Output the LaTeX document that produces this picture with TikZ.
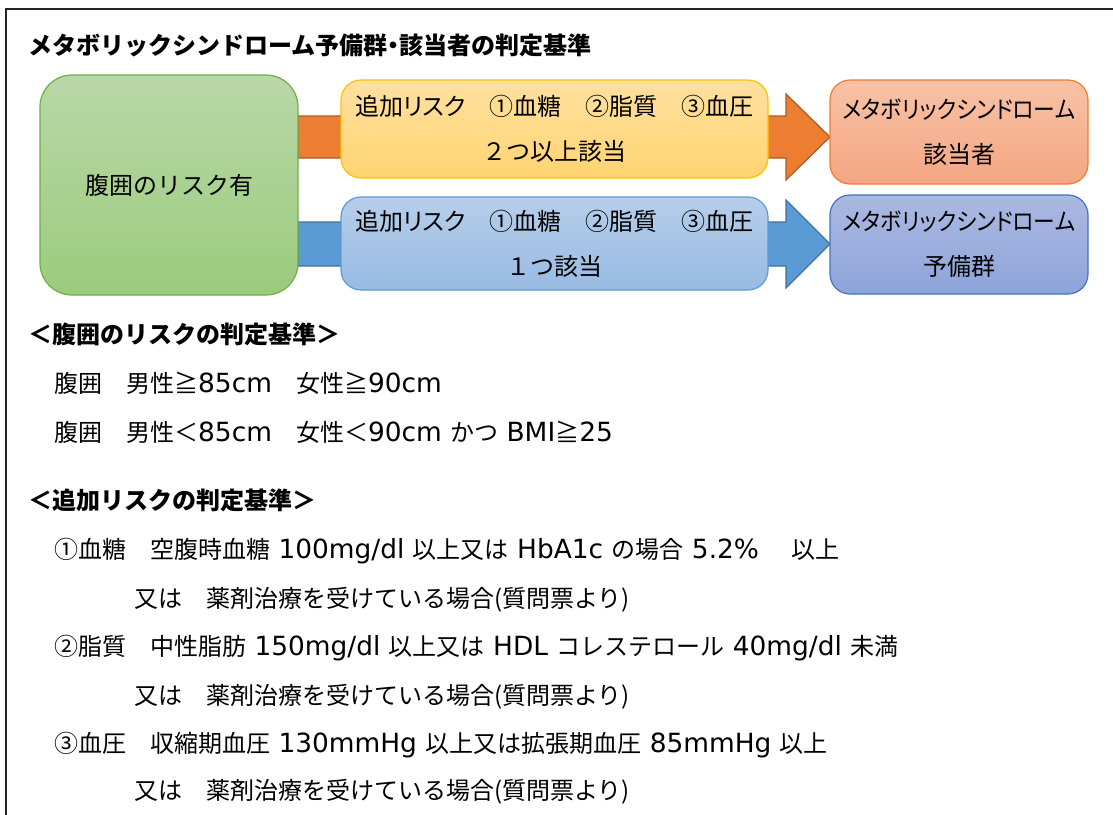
\documentclass[tikz,border=0pt]{standalone}
\usepackage{fontspec}
\setmainfont{Noto Sans CJK JP}
\newfontfamily\latfont[Scale=1.1]{DejaVu Sans}
\newfontfamily\paltfont[RawFeature=+palt]{Noto Sans CJK JP}
\newcommand\ltn[1]{{\latfont #1}}
\newcommand\sps{{\latfont\ }}
\newcommand\metabo{\scalebox{0.905}[1]{\paltfont メタボリックシンドローム}}
\usetikzlibrary{calc}
\definecolor{frameC}{HTML}{262626}
\begin{document}
\begin{tikzpicture}[x=1pt,y=-1pt,
  box/.style={rounded corners=20pt, line width=1.2pt, align=center, inner sep=0pt,
    font=\fontsize{24}{45}\selectfont},
  txt/.style={anchor=west, inner sep=0pt, font=\fontsize{24}{28}\selectfont},
  head/.style={anchor=west, inner sep=0pt, font=\fontsize{24}{28}\selectfont\bfseries},
  barrow/.style={line width=1.2pt, line join=miter}]
\useasboundingbox (0,0) rectangle (1113,814);
\draw[frameC, line width=2pt] (6,830) -- (6,9) -- (1125,9);

\node[head] (title) at (28,45) {メタボリックシンドローム予備群\kern-6pt・\kern-6pt該当者の判定基準};

\coordinate (oT) at (830,137);
\coordinate (bT) at (830,244);

% block arrows (behind the boxes)
\draw[barrow, draw={rgb,255:red,174;green,90;blue,33}, fill={rgb,255:red,237;green,125;blue,49}]
  (298,116) -- ($(oT)+(-44,-21)$) -- ($(oT)+(-44,-43)$) -- (oT) -- ($(oT)+(-44,43)$) -- ($(oT)+(-44,21)$) -- (298,158) -- cycle;
\draw[barrow, draw={rgb,255:red,65;green,113;blue,156}, fill={rgb,255:red,91;green,155;blue,213}]
  (298,222) -- ($(bT)+(-44,-22)$) -- ($(bT)+(-44,-44)$) -- (bT) -- ($(bT)+(-44,44)$) -- ($(bT)+(-44,22)$) -- (298,266) -- cycle;

\node[box, rounded corners=32pt, minimum width=258pt, minimum height=220pt,
  draw={rgb,255:red,112;green,173;blue,71},
  top color={rgb,255:red,184;green,216;blue,168}, bottom color={rgb,255:red,156;green,203;blue,124}]
  (green) at (169,185) {腹囲のリスク有};

\node[box, minimum width=427pt, minimum height=98pt,
  draw={rgb,255:red,255;green,192;blue,0},
  top color={rgb,255:red,255;green,224;blue,160}, bottom color={rgb,255:red,255;green,212;blue,112}]
  (yel) at (554.5,129) {{\paltfont 追加リスク　①血糖　②脂質　③血圧}\\２つ以上該当};

\node[box, minimum width=427pt, minimum height=93pt,
  draw={rgb,255:red,91;green,155;blue,213},
  top color={rgb,255:red,182;green,206;blue,234}, bottom color={rgb,255:red,152;green,187;blue,227}]
  (blu) at (554.5,243.5) {{\paltfont 追加リスク　①血糖　②脂質　③血圧}\\１つ該当};

\node[box, minimum width=258pt, minimum height=104pt,
  draw={rgb,255:red,237;green,125;blue,49},
  top color={rgb,255:red,248;green,194;blue,166}, bottom color={rgb,255:red,244;green,166;blue,130}]
  (sal) at (959,132) {\metabo\\該当者};

\node[box, minimum width=258pt, minimum height=99pt,
  draw={rgb,255:red,68;green,114;blue,196},
  top color={rgb,255:red,171;green,185;blue,225}, bottom color={rgb,255:red,141;green,164;blue,218}]
  (per) at (959,244.5) {\metabo\\予備群};

% criteria text
\node[head] (h1) at (28,334) {＜腹囲のリスクの判定基準＞};
\node[txt] (l1) at (54,383) {腹囲　男性≧\ltn{85cm}　女性≧\ltn{90cm}};
\node[txt] (l2) at (54,432) {腹囲　男性＜\ltn{85cm}　女性＜\ltn{90cm}\sps かつ\sps\ltn{BMI}≧\ltn{25}};
\node[head] (h2) at (28,500) {＜追加リスクの判定基準＞};
\node[txt] (l3) at (54,551) {①血糖　空腹時血糖\sps\ltn{100mg/dl}\sps 以上又は\sps\ltn{HbA1c}\sps の場合\sps\ltn{5.2\%}\sps　以上};
\node[txt] (l4) at (134,600) {又は　薬剤治療を受けている場合(質問票より)};
\node[txt] (l5) at (54,648) {②脂質　中性脂肪\sps\ltn{150mg/dl}\sps 以上又は\sps\ltn{HDL}\sps コレステロール\sps\ltn{40mg/dl}\sps 未満};
\node[txt] (l6) at (134,697) {又は　薬剤治療を受けている場合(質問票より)};
\node[txt] (l7) at (54,745) {③血圧　収縮期血圧\sps\ltn{130mmHg}\sps 以上又は拡張期血圧\sps\ltn{85mmHg}\sps 以上};
\node[txt] (l8) at (134,792) {又は　薬剤治療を受けている場合(質問票より)};
\end{tikzpicture}
\end{document}
